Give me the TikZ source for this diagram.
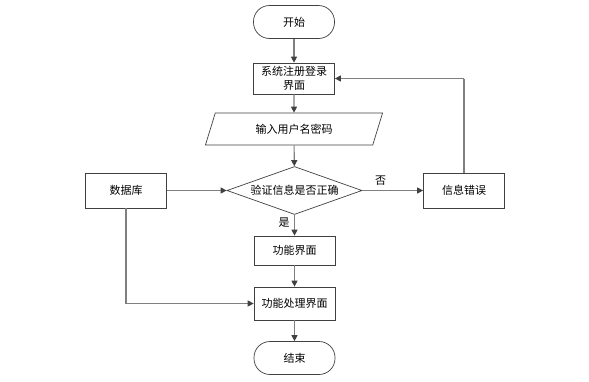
\documentclass[tikz,border=0pt]{standalone}
\usepackage{fontspec}
\setmainfont{Noto Sans CJK SC}
\usetikzlibrary{shapes.geometric,arrows.meta}
\definecolor{bordc}{HTML}{404040}
\definecolor{linec}{HTML}{7F7F7F}
\definecolor{tipc}{HTML}{404040}
\begin{document}
\begin{tikzpicture}[x=1pt,y=-1pt,
  every node/.style={font=\fontsize{11}{13.5}\selectfont, text=black},
  proc/.style={draw=bordc, line width=0.7pt, fill=white, minimum width=81pt, inner sep=1pt, align=center},
  term/.style={draw=bordc, line width=0.7pt, fill=white, rounded corners=16pt, minimum width=81pt, minimum height=33pt},
  conn/.style={draw=linec, line width=1.1pt, -{Triangle[length=6pt,width=6pt,color=tipc]}},
  plain/.style={draw=linec, line width=1.1pt}]
\useasboundingbox (0,0) rectangle (589,381);
\node[term] (start) at (294,22) {开始};
\node[proc, minimum height=31pt] (login) at (294,78.5) {系统注册登录\\界面};
\node[trapezium, trapezium left angle=65, trapezium right angle=115, draw=bordc, line width=0.7pt,
  minimum width=178pt, minimum height=32pt, trapezium stretches=true, inner sep=0pt] (input) at (294,129) {输入用户名密码};
\node[diamond, draw=bordc, line width=0.7pt, minimum width=135pt, minimum height=48pt, aspect=2.8, inner sep=0pt] (check) at (294.5,190.5) {验证信息是否正确};
\node[proc, minimum height=35pt] (db) at (126,190.5) {数据库};
\node[proc, minimum height=35pt] (err) at (464,190.5) {信息错误};
\node[proc, minimum height=29pt] (func) at (294.5,250.5) {功能界面};
\node[proc, minimum height=33pt] (proc) at (294.5,303.5) {功能处理界面};
\node[term] (end) at (294.5,358) {结束};
\coordinate (loopc) at (464,78.5);
\coordinate (dbc) at (126,303.5);
\draw[conn] (start) -- (login);
\draw[conn] (login) -- (input);
\draw[conn] (input) -- (check);
\draw[conn] (db) -- (check);
\draw[conn] (check) -- node[above, pos=0.3, yshift=1pt] {否} (err);
\draw[conn] (check) -- node[left, pos=0.35, xshift=-1pt] {是} (func);
\draw[conn] (func) -- (proc);
\draw[conn] (proc) -- (end);
\draw[plain] (err.north) -- (loopc);
\draw[conn] (loopc) -- (login.east);
\draw[plain] (db.south) -- (dbc);
\draw[conn] (dbc) -- (proc.west);
\end{tikzpicture}
\end{document}
